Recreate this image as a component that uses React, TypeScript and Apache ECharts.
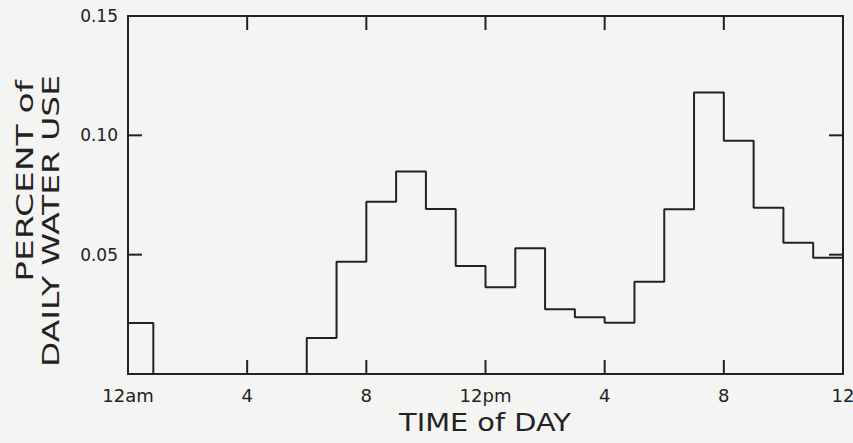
import React, { useEffect, useRef } from "react";
import * as echarts from "echarts";

// Start of each step (hour of day); the first bar is drawn slightly short in the original
const binStart = [0, 0.85, 2, 3, 4, 5, 6, 7, 8, 9, 10, 11, 12, 13, 14, 15, 16, 17, 18, 19, 20, 21, 22, 23];
const usage = [
  0.0214, 0, 0, 0, 0, 0, 0.0151, 0.047, 0.0722, 0.0848, 0.0691, 0.0453,
  0.0363, 0.0527, 0.0271, 0.0238, 0.0215, 0.0387, 0.069, 0.1179, 0.0977, 0.0697, 0.055, 0.0487,
];
const dayEnd = 24;
const xTickValues = [0, 4, 8, 12, 16, 20, 24];
const xTickLabels = ["12am", "4", "8", "12pm", "4", "8", "12"];
const yTickValues = [0.05, 0.1, 0.15];
const yTickLabels = ["0.05", "0.10", "0.15"];
const xInnerTicks = [4, 8, 12, 16, 20];
const yInnerTicks = [0.05, 0.1];
const xTitle = "TIME of DAY";
const yTitleOuter = "PERCENT of";
const yTitleInner = "DAILY WATER USE";

const X_MIN = 0;
const X_MAX = 24;
const Y_MIN = 0;
const Y_MAX = 0.15;

const INK = "#222222";
const FONT = "DejaVu Sans";
const TICK_LEN = 14;

export default function App() {
  const ref = useRef<HTMLDivElement>(null);
  useEffect(() => {
    if (!ref.current) return;
    const chart = echarts.init(ref.current, undefined, { renderer: "svg" });
    const stepData: [number, number][] = binStart.map((x, i) => [x, usage[i]]);
    stepData.push([dayEnd, usage[usage.length - 1]]);

    // tick marks: kind 0 = along x (bottom & top), kind 1 = along y (left & right)
    const tickData = [
      ...xInnerTicks.map((v) => ({ value: [v, 0] })),
      ...yInnerTicks.map((v) => ({ value: [v, 1] })),
    ];

    const xLabel = (v: number) => {
      const i = xTickValues.indexOf(Math.round(v));
      return i >= 0 ? xTickLabels[i] : "";
    };
    const yLabel = (v: number) => {
      const i = yTickValues.findIndex((t) => Math.abs(t - v) < 1e-9);
      return i >= 0 ? yTickLabels[i] : "";
    };

    const axisLine = () => ({ show: true, onZero: false, lineStyle: { color: INK, width: 2 } });
    const tickStyle = { stroke: INK, lineWidth: 2 };

    chart.setOption({
      animation: false,
      grid: { left: 128, right: 10, top: 16, bottom: 69, outerBoundsMode: "none" },
      xAxis: [
        {
          type: "value",
          min: X_MIN,
          max: X_MAX,
          interval: 4,
          position: "bottom",
          axisLine: axisLine(),
          axisTick: { show: false },
          splitLine: { show: false },
          axisLabel: { formatter: xLabel, color: INK, fontFamily: FONT, fontSize: 18, margin: 12 },
        },
        {
          type: "value",
          min: X_MIN,
          max: X_MAX,
          interval: 4,
          position: "top",
          axisLine: axisLine(),
          axisTick: { show: false },
          splitLine: { show: false },
          axisLabel: { show: false },
        },
      ],
      yAxis: [
        {
          type: "value",
          min: Y_MIN,
          max: Y_MAX,
          interval: 0.05,
          position: "left",
          axisLine: axisLine(),
          axisTick: { show: false },
          splitLine: { show: false },
          axisLabel: { formatter: yLabel, color: INK, fontFamily: FONT, fontSize: 17, margin: 10 },
        },
        {
          type: "value",
          min: Y_MIN,
          max: Y_MAX,
          interval: 0.05,
          position: "right",
          axisLine: axisLine(),
          axisTick: { show: false },
          splitLine: { show: false },
          axisLabel: { show: false },
        },
      ],
      series: [
        {
          type: "line",
          step: "end",
          data: stepData,
          showSymbol: false,
          lineStyle: { color: INK, width: 2 },
        },
        {
          type: "custom",
          xAxisIndex: 0,
          yAxisIndex: 0,
          silent: true,
          data: tickData,
          renderItem: (_params: any, api: any) => {
            const v = api.value(0);
            const kind = api.value(1);
            if (kind === 0) {
              const b = api.coord([v, Y_MIN]);
              const t = api.coord([v, Y_MAX]);
              return {
                type: "group",
                children: [
                  { type: "line", shape: { x1: b[0], y1: b[1], x2: b[0], y2: b[1] - TICK_LEN }, style: tickStyle },
                  { type: "line", shape: { x1: t[0], y1: t[1], x2: t[0], y2: t[1] + TICK_LEN }, style: tickStyle },
                ],
              };
            }
            const l = api.coord([X_MIN, v]);
            const r = api.coord([X_MAX, v]);
            return {
              type: "group",
              children: [
                { type: "line", shape: { x1: l[0], y1: l[1], x2: l[0] + TICK_LEN, y2: l[1] }, style: tickStyle },
                { type: "line", shape: { x1: r[0], y1: r[1], x2: r[0] - TICK_LEN, y2: r[1] }, style: tickStyle },
              ],
            };
          },
        },
      ],
      graphic: [
        {
          type: "text",
          x: 485,
          y: 422,
          scaleX: 1.2,
          style: {
            text: xTitle,
            fontFamily: FONT,
            fontSize: 24,
            fill: INK,
            align: "center",
            verticalAlign: "middle",
            textAlign: "center",
            textVerticalAlign: "middle",
          },
        },
        {
          type: "text",
          x: 25,
          y: 181,
          rotation: Math.PI / 2,
          scaleX: 1.5,
          style: {
            text: yTitleOuter,
            fontFamily: FONT,
            fontSize: 23,
            fill: INK,
            align: "center",
            verticalAlign: "middle",
            textAlign: "center",
            textVerticalAlign: "middle",
          },
        },
        {
          type: "text",
          x: 51,
          y: 221,
          rotation: Math.PI / 2,
          scaleX: 1.43,
          style: {
            text: yTitleInner,
            fontFamily: FONT,
            fontSize: 23,
            fill: INK,
            align: "center",
            verticalAlign: "middle",
            textAlign: "center",
            textVerticalAlign: "middle",
          },
        },
      ],
    });
    return () => chart.dispose();
  }, []);

  return (
    <div
      ref={ref}
      style={{ position: "fixed", left: 0, top: 0, width: 853, height: 443, background: "#f4f4f2" }}
    />
  );
}
